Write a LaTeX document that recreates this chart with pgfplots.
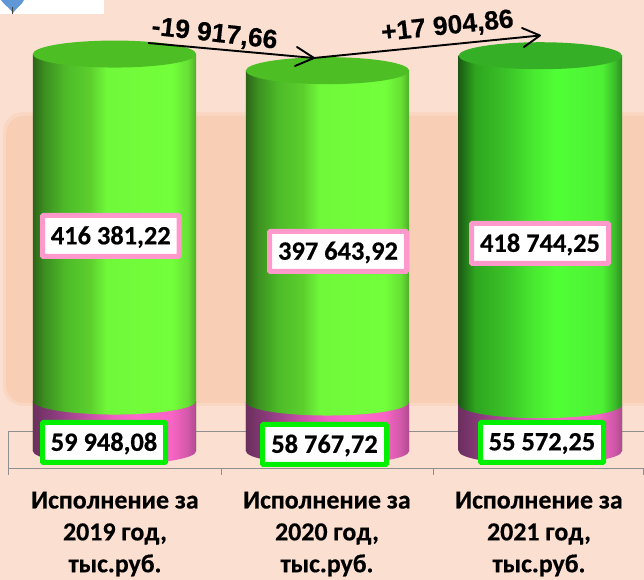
\documentclass[border=0pt]{standalone}
\usepackage{fontspec}
\setmainfont{Carlito}
\newfontfamily\valf{Carlito Bold}[FakeBold=0.5]
\newfontfamily\arialf{Liberation Sans Bold}[FakeBold=0.4]
\usepackage{pgfplots}
\usepackage{pgfplotstable}
\pgfplotsset{compat=1.18}
\usetikzlibrary{arrows.meta}
% shadings: path width maps on 25bp..75bp
\pgfdeclarehorizontalshading{greenA}{100bp}{rgb(0bp)=(0.169,0.392,0.094);rgb(25bp)=(0.169,0.392,0.094);rgb(28.5bp)=(0.235,0.561,0.125);rgb(35bp)=(0.302,0.733,0.157);rgb(42.5bp)=(0.361,0.812,0.180);rgb(47.5bp)=(0.439,0.973,0.227);rgb(67.5bp)=(0.451,1,0.231);rgb(72.5bp)=(0.400,0.878,0.208);rgb(75bp)=(0.310,0.682,0.165);rgb(100bp)=(0.310,0.682,0.165)}
\pgfdeclarehorizontalshading{greenC}{100bp}{rgb(0bp)=(0.110,0.353,0.078);rgb(25bp)=(0.110,0.353,0.078);rgb(30bp)=(0.180,0.647,0.122);rgb(40bp)=(0.235,0.769,0.157);rgb(47.5bp)=(0.282,0.910,0.188);rgb(55bp)=(0.314,1,0.212);rgb(69bp)=(0.306,0.941,0.204);rgb(72.5bp)=(0.235,0.753,0.165);rgb(75bp)=(0.184,0.561,0.133);rgb(100bp)=(0.184,0.561,0.133)}
\pgfdeclarehorizontalshading{pinkA}{100bp}{rgb(0bp)=(0.420,0.184,0.369);rgb(25bp)=(0.420,0.184,0.369);rgb(32.5bp)=(0.561,0.239,0.502);rgb(42.5bp)=(0.784,0.314,0.659);rgb(50bp)=(0.941,0.376,0.769);rgb(57.5bp)=(1,0.400,0.800);rgb(67.5bp)=(0.973,0.392,0.769);rgb(72.5bp)=(0.816,0.345,0.659);rgb(75bp)=(0.690,0.290,0.565);rgb(100bp)=(0.690,0.290,0.565)}
\newcommand\shadecap[2]{\pgfdeclareplotmark{#1}{\pgfpathellipse{\pgfpointorigin}{\pgfqpoint{81.7bp}{0pt}}{\pgfqpoint{0pt}{13.5bp}}\pgfshadepath{#2}{0}\pgfusepath{discard}}}
\shadecap{mGreenA}{greenA}
\shadecap{mGreenC}{greenC}
\shadecap{mPink}{pinkA}
\pgfdeclareplotmark{mTop}{\pgfpathellipse{\pgfpointorigin}{\pgfqpoint{81.7bp}{0pt}}{\pgfqpoint{0pt}{13.5bp}}\pgfusepathqfill}
\definecolor{bgc}{HTML}{FBE0D1}
\definecolor{panelc}{HTML}{F8CEB4}
\definecolor{panelh}{HTML}{FAD7C3}
\definecolor{capA}{HTML}{4DBF25}
\definecolor{capC}{HTML}{35B026}
\definecolor{boxp}{HTML}{FF99CC}
\definecolor{boxg}{HTML}{00F000}
\definecolor{gridc}{HTML}{8F8F8F}
% values in thousand roubles
\pgfplotstableread{
x pink green
114.5 59.94808 416.38122
}\yearA
\pgfplotstableread{
x pink green
327.5 58.76772 397.64392
}\yearB
\pgfplotstableread{
x pink green
540.3 55.57225 418.74425
}\yearC
\newcommand\cyl[4]{%
  \addplot[ybar,bar width=163.4,bar shift=0pt,draw=none,shade,shading=#2,forget plot]
    table[x=x,y expr=\thisrow{pink}+\thisrow{green}] {#1};
  \addplot[ybar,bar width=163.4,bar shift=0pt,draw=none,shade,shading=pinkA,forget plot]
    table[x=x,y=pink] {#1};
  \addplot[only marks,mark=mPink,forget plot] table[x=x,y expr=0] {#1};
  \addplot[only marks,mark=#3,forget plot] table[x=x,y=pink] {#1};
  \addplot[only marks,mark=mTop,mark options={draw=none,fill=#4},forget plot]
    table[x=x,y expr=\thisrow{pink}+\thisrow{green}] {#1};
}
\tikzset{px/.style={x=1bp,y=-1bp,shift={(0bp,580bp)}},
  val/.style={font=\valf\fontsize{26.5}{30}\selectfont,text=black,anchor=center,inner sep=0pt},
  cat/.style={font=\valf\fontsize{26}{32}\selectfont,text=black,align=center,anchor=center,inner sep=0pt},
  delta/.style={font=\arialf\fontsize{26.5}{30}\selectfont,text=black,anchor=center,inner sep=0pt}}
\newcommand\valbox[6]{%
  \draw[#5,line width=5bp,fill=white,rounded corners=1bp] (#1+2.5,#2+2.5) rectangle (#3-2.5,#4-2.5);
  \node[val] at ({(#1+#3)/2},{(#2+#4)/2+1}) {#6};}
\begin{document}
\begin{tikzpicture}
\clip (0,0) rectangle (644bp,580bp);
\fill[bgc] (0,0) rectangle (644bp,580bp);
\begin{scope}[px]
  \fill[white] (0,0) rectangle (104,14);
  \fill[panelh,rounded corners=20bp] (3,112) rectangle (680,406);
  \fill[panelc,rounded corners=18bp] (6,116) rectangle (680,403);
  \fill[cyan!55!blue!65] (1,0) -- (24,0) .. controls (22,5) and (16,8) .. (13,13) .. controls (10,8) and (4,5) .. (1,0) -- cycle;
  \draw[black!75,line width=1.3bp] (12.5,7) -- (12.5,14);
  \draw[gridc,line width=0.9bp] (8.3,475) -- (8.3,431) -- (644,431);
  \draw[gridc,line width=0.9bp] (8.3,468) -- (644,468);
  \draw[gridc,line width=0.9bp] (221,468) -- (221,475);
  \draw[gridc,line width=0.9bp] (433,468) -- (433,475);
  \draw[gridc,line width=0.9bp] (643.5,468) -- (643.5,475);
\end{scope}
\begin{axis}[scale only axis,width=644bp,height=580bp,hide axis,
  xmin=0,xmax=644,ymin=-154.8,ymax=541.2,clip=false]
\cyl{\yearA}{greenA}{mGreenA}{capA}
\cyl{\yearB}{greenA}{mGreenA}{capA}
\cyl{\yearC}{greenC}{mGreenC}{capC}
\end{axis}
\begin{scope}[px]
  \valbox{40}{213}{181.5}{259}{boxp}{416 381,22}
  \valbox{267}{229}{409}{274}{boxp}{397 643,92}
  \valbox{469}{221}{611}{266}{boxp}{418 744,25}
  \valbox{40}{420}{168}{465}{boxg}{59 948,08}
  \valbox{260}{422}{389}{467}{boxg}{58 767,72}
  \valbox{478}{420}{606}{465}{boxg}{55 572,25}
  \node[cat] at (115,534) {Исполнение за\\2019 год,\\тыс.руб.};
  \node[cat] at (327,534) {Исполнение за\\2020 год,\\тыс.руб.};
  \node[cat] at (539,534) {Исполнение за\\2021 год,\\тыс.руб.};
  \draw[black,line width=1.9bp] (148,43) -- (314,58);
  \draw[black,line width=1.9bp,line cap=round,line join=round] (297,47) -- (314,58) -- (295,66);
  \draw[black,line width=1.9bp] (314,58) -- (540,35.5);
  \draw[black,line width=1.9bp,line cap=round,line join=round] (522,28) -- (540,35.5) -- (524,47);
  \node[delta,rotate=-6.5] at (214.5,34.5) {-19 917,66};
  \node[delta,rotate=6] at (447.5,27) {+17 904,86};
\end{scope}
\end{tikzpicture}
\end{document}
